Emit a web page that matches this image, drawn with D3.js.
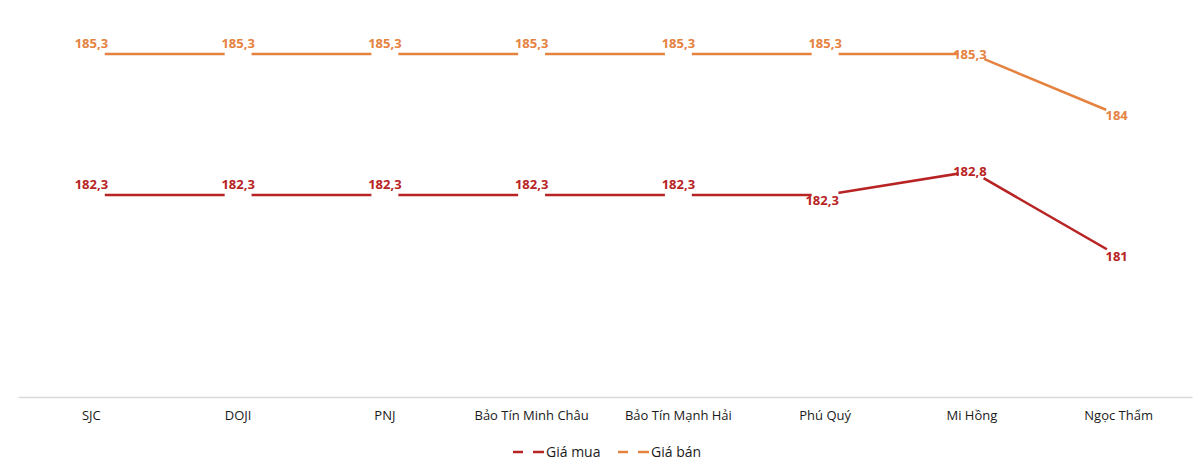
<!DOCTYPE html>
<html>
<head>
<meta charset="utf-8">
<script src="https://cdn.jsdelivr.net/npm/d3@7"></script>
<style>
  body { margin: 0; background: #fff; }
  text { font-family: "Open Sans", sans-serif; }
</style>
</head>
<body>
<div id="chart"></div>
<script>
// data
var categories = ["SJC", "DOJI", "PNJ", "Bảo Tín Minh Châu", "Bảo Tín Mạnh Hải", "Phú Quý", "Mi Hồng", "Ngọc Thẩm"];
var giaMua = [182.3, 182.3, 182.3, 182.3, 182.3, 182.3, 182.8, 181];
var giaBan = [185.3, 185.3, 185.3, 185.3, 185.3, 185.3, 185.3, 184];
// where the value label sits: t = above, b = below, c = on the point
var muaLabelPos = ["t", "t", "t", "t", "t", "b", "c", "c"];
var banLabelPos = ["t", "t", "t", "t", "t", "t", "c", "c"];

var width = 1200, height = 465;
var red = "#B82424", orange = "#E5823F";

var svg = d3.select("#chart").append("svg")
  .attr("width", width)
  .attr("height", height);

var x = d3.scaleBand()
  .domain(categories)
  .range([18, 1192]);

var y = d3.scaleLinear()
  .domain([178, 186])
  .range([397, 21]);

// x axis
var xAxis = svg.append("g")
  .attr("transform", "translate(0," + y(178) + ")")
  .call(d3.axisBottom(x).tickSize(0).tickPadding(14));
xAxis.select(".domain")
  .attr("stroke", "#d9d9d9")
  .attr("stroke-width", 1.5);
xAxis.selectAll("text")
  .attr("font-size", 13)
  .attr("fill", "#1a1a1a");

var cx = d => x(d) + x.bandwidth() / 2;

var series = [
  { name: "Giá mua", values: giaMua, pos: muaLabelPos, color: red },
  { name: "Giá bán", values: giaBan, pos: banLabelPos, color: orange }
];

var line = d3.line()
  .x((d, i) => cx(categories[i]))
  .y(d => y(d));

series.forEach(function(s) {
  var g = svg.append("g");
  g.append("path")
    .datum(s.values)
    .attr("fill", "none")
    .attr("stroke", s.color)
    .attr("stroke-width", 2.5)
    .attr("d", line);

  // white markers that break the line around each point
  g.selectAll("circle")
    .data(s.values)
    .enter()
    .append("circle")
    .attr("cx", (d, i) => cx(categories[i]))
    .attr("cy", d => y(d))
    .attr("r", 13.5)
    .attr("fill", "white");

  g.selectAll("text")
    .data(s.values)
    .enter()
    .append("text")
    .attr("x", (d, i) => cx(categories[i]) + (s.pos[i] === "b" ? -3 : (s.pos[i] === "c" ? -2 : 0)))
    .attr("y", (d, i) => {
      if (s.pos[i] === "t") return y(d) - 6;
      if (s.pos[i] === "b") return y(d) + 10;
      return y(d) + 5;
    })
    .attr("text-anchor", "middle")
    .attr("font-size", 13)
    .attr("font-weight", "bold")
    .attr("fill", s.color)
    .text(d => String(d).replace(".", ","));
});

// legend
var legend = svg.append("g")
  .attr("transform", "translate(513, 452)");
var items = legend.selectAll("g")
  .data(series)
  .enter()
  .append("g")
  .attr("transform", (d, i) => "translate(" + (i * 105) + ",0)");
items.append("line")
  .attr("x1", 0).attr("x2", 10)
  .attr("stroke", d => d.color)
  .attr("stroke-width", 2.5);
items.append("line")
  .attr("x1", 20).attr("x2", 31)
  .attr("stroke", d => d.color)
  .attr("stroke-width", 2.5);
items.append("text")
  .attr("x", 33)
  .attr("y", 5)
  .attr("font-size", 14)
  .attr("fill", "#1a1a1a")
  .text(d => d.name);
</script>
</body>
</html>
